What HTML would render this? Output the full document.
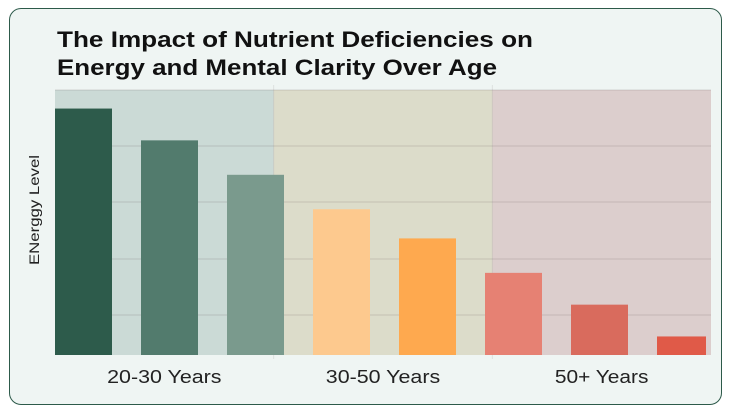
<!DOCTYPE html>
<html><head><meta charset="utf-8"><style>
body{margin:0;width:730px;height:412px;background:#fff;font-family:"Liberation Sans",sans-serif;}
#card{position:absolute;left:9px;top:8px;width:711px;height:395px;border:1.5px solid #2d5a4a;border-radius:12px;background:#eff5f3;}
</style></head><body>
<div id="card"></div>
<svg width="730" height="412" style="position:absolute;left:0;top:0">
<text x="57" y="47" font-size="22" font-weight="bold" fill="#111" textLength="476" lengthAdjust="spacingAndGlyphs">The Impact of Nutrient Deficiencies on</text>
<text x="57" y="75" font-size="22" font-weight="bold" fill="#111" textLength="440" lengthAdjust="spacingAndGlyphs">Energy and Mental Clarity Over Age</text>
<text transform="translate(39,210) rotate(-90)" text-anchor="middle" font-size="14" fill="#222" textLength="110" lengthAdjust="spacingAndGlyphs">ENerggy Level</text>
<g id="bands"></g><g id="grid"></g><g id="bars"></g><g id="xlabels"></g>
</svg>
<script>
const groups=["20-30 Years","30-50 Years","50+ Years"];
const values=[93,81,68,55,44,31,19,7];
const barColors=["#2d5b4b","#527b6d","#7a9a8d","#fdc98e","#fea94f","#e68173","#d96b5d","#e05a48"];
const bandColors=["#cbdad6","#dcdcca","#dccecd"];
const L=55,R=711,T=90,B=355,yMax=100;
const ns="http://www.w3.org/2000/svg";
function y(v){return B-(v/yMax)*(B-T);}
function mk(t,a,p){const e=document.createElementNS(ns,t);for(const k in a)e.setAttribute(k,a[k]);p.appendChild(e);return e;}
const bw=(R-L)/groups.length;
groups.forEach((g,i)=>{
 const r=mk("rect",{x:L+i*bw,y:T,width:bw,height:B-T,fill:bandColors[i]},document.getElementById("bands"));
 
 
 const t=mk("text",{x:L+i*bw+bw/2,y:383,"text-anchor":"middle","font-size":"18",fill:"#222",textLength:g.length*10.4,lengthAdjust:"spacingAndGlyphs"},document.getElementById("xlabels"));
 t.textContent=g;
 
 
});
[T,146,202,259,315].forEach(gy=>{
 const l=mk("line",{x1:L,x2:R,y1:gy,y2:gy,stroke:"rgba(120,110,110,0.25)","stroke-width":1},document.getElementById("grid"));
 
 
});
[L+bw,L+2*bw].forEach(gx=>{
 const l=mk("line",{x1:gx,x2:gx,y1:T-5,y2:B+4,stroke:"rgba(120,110,110,0.15)"},document.getElementById("grid"));
 
 
});
const step=86,w=57;
values.forEach((v,i)=>{
 const x=L+i*step;
 const wd=Math.min(w,706-x);
 const r=mk("rect",{x:x,y:y(v),width:wd,height:B-y(v),fill:barColors[i]},document.getElementById("bars"));
 
 
});
</script>
</body></html>
